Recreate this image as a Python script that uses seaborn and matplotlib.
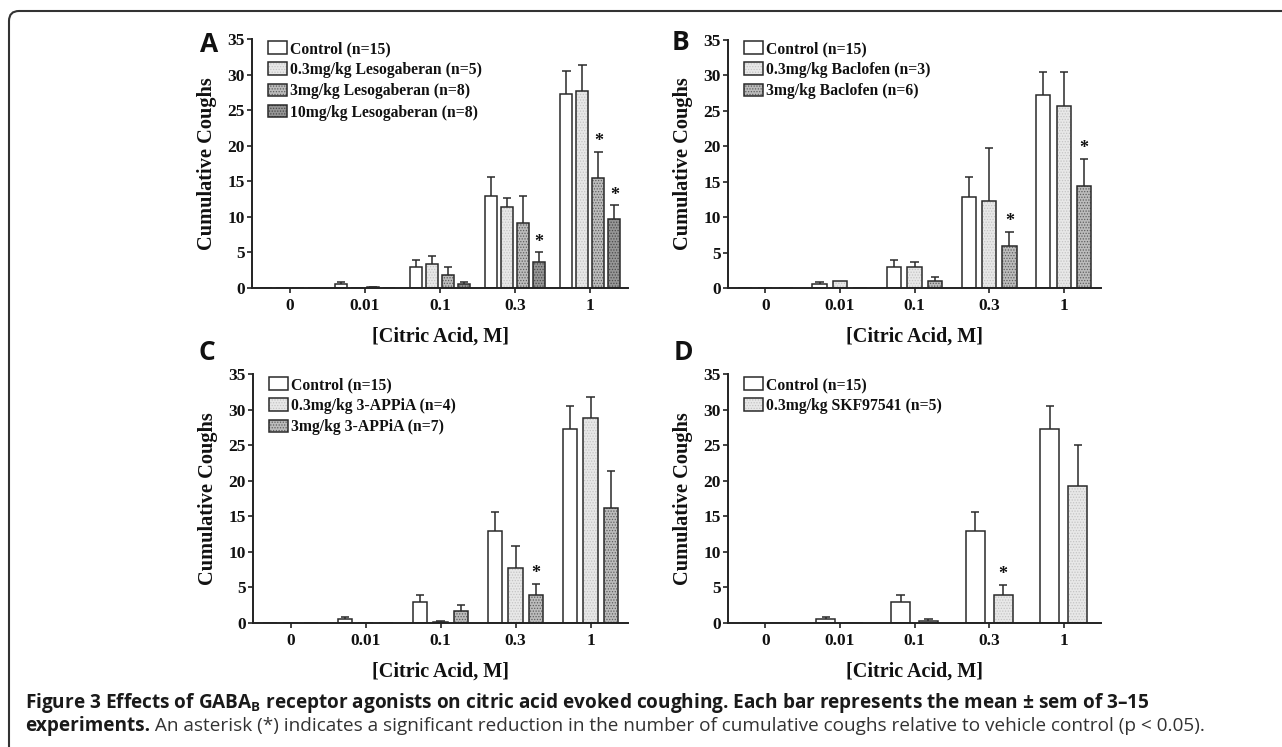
import numpy as np
import pandas as pd
import matplotlib
matplotlib.use("Agg")
import matplotlib.pyplot as plt
import seaborn as sns
from matplotlib.path import Path
from matplotlib.patches import PathPatch
from matplotlib.colors import to_rgba

# ---------------- data ----------------
concentrations = ["0", "0.01", "0.1", "0.3", "1"]

control_label = "Control (n=15)"
control_mean = [0.0, 0.5, 3.0, 12.9, 27.2]
control_sem = [0.0, 0.3, 0.9, 2.7, 3.3]

# Panel A - Lesogaberan
leso_labels = ["0.3mg/kg Lesogaberan (n=5)", "3mg/kg Lesogaberan (n=8)",
               "10mg/kg Lesogaberan (n=8)"]
leso03_mean = [0.0, 0.0, 3.4, 11.4, 27.7]
leso03_sem = [0.0, 0.0, 1.1, 1.3, 3.7]
leso3_mean = [0.0, 0.15, 1.8, 9.1, 15.5]
leso3_sem = [0.0, 0.05, 1.1, 3.8, 3.6]
leso10_mean = [0.0, 0.0, 0.6, 3.7, 9.7]
leso10_sem = [0.0, 0.0, 0.3, 1.3, 1.9]

# Panel B - Baclofen
bac_labels = ["0.3mg/kg Baclofen (n=3)", "3mg/kg Baclofen (n=6)"]
bac03_mean = [0.0, 1.0, 3.0, 12.3, 25.7]
bac03_sem = [0.0, 0.0, 0.6, 7.4, 4.8]
bac3_mean = [0.0, 0.0, 1.0, 5.9, 14.4]
bac3_sem = [0.0, 0.0, 0.5, 2.0, 3.8]

# Panel C - 3-APPiA
appia_labels = ["0.3mg/kg 3-APPiA (n=4)", "3mg/kg 3-APPiA (n=7)"]
appia03_mean = [0.0, 0.0, 0.2, 7.8, 28.8]
appia03_sem = [0.0, 0.0, 0.15, 3.0, 2.9]
appia3_mean = [0.0, 0.0, 1.7, 3.9, 16.2]
appia3_sem = [0.0, 0.0, 0.9, 1.6, 5.2]

# Panel D - SKF97541
skf_labels = ["0.3mg/kg SKF97541 (n=5)"]
skf03_mean = [0.0, 0.0, 0.35, 3.9, 19.3]
skf03_sem = [0.0, 0.0, 0.2, 1.5, 5.7]

# significant bars: (series index, concentration)
stars_A = [(3, "0.3"), (2, "1"), (3, "1")]
stars_B = [(2, "0.3"), (2, "1")]
stars_C = [(2, "0.3")]
stars_D = [(1, "0.3")]

caption_bold = ("Figure 3 Effects of GABA$_\\mathbf{B}$ receptor agonists on citric acid evoked "
                "coughing. Each bar represents the mean \u00b1 sem of 3\u201315")
caption_bold2 = "experiments."
caption_regular = (" An asterisk (*) indicates a significant reduction in the number of "
                   "cumulative coughs relative to vehicle control (p < 0.05).")

# ---------------- style ----------------
W, H = 1282, 747
EDGE = "#2a2a2a"
FILL = {"control": "#ffffff", "low": "#e8e8e8", "mid": "#bcbcbc", "high": "#969696"}
HATCH = {"control": None, "low": "......", "mid": "......", "high": "......"}
HATCHC = {"control": EDGE, "low": "#c4c4c4", "mid": "#5e5e5e", "high": "#4a4a4a"}

sns.set_theme(style="white")
plt.rcParams["font.family"] = ["Liberation Serif", "DejaVu Serif"]
plt.rcParams["mathtext.fontset"] = "custom"
plt.rcParams["mathtext.bf"] = "Open Sans:bold"
plt.rcParams["mathtext.rm"] = "Open Sans"
plt.rcParams["hatch.linewidth"] = 0.6

fig = plt.figure(figsize=(W / 100, H / 100), dpi=100)
fig.patch.set_facecolor("white")


def rect(l, r, t, b):
    return [l / W, 1 - b / H, (r - l) / W, (b - t) / H]


def draw_panel(box, labels, means, sems, styles, stars, width, gap, letter, letter_xy,
               leg_dy):
    ax = fig.add_axes(rect(*box))
    rows = []
    for lab, m in zip(labels, means):
        for c, v in zip(concentrations, m):
            rows.append({"conc": c, "group": lab, "value": v})
    df = pd.DataFrame(rows)
    palette = {lab: FILL[s] for lab, s in zip(labels, styles)}
    sns.barplot(data=df, x="conc", y="value", hue="group", order=concentrations,
                hue_order=labels, palette=palette, saturation=1, edgecolor=EDGE,
                linewidth=1.1, width=width, gap=gap, errorbar=None, legend=False, ax=ax)
    handles = []
    for i, cont in enumerate(ax.containers):
        st = styles[i]
        for j, p in enumerate(cont.patches):
            if HATCH[st]:
                p.set_hatch(HATCH[st])
                p._hatch_color = to_rgba(HATCHC[st])
            xc = p.get_x() + p.get_width() / 2
            h = p.get_height()
            e = sems[i][j]
            top = h + e
            if e > 0:
                ax.vlines(xc, h, top, color=EDGE, lw=1.1, zorder=4)
                ax.hlines(top, xc - 0.055, xc + 0.055, color=EDGE, lw=1.1, zorder=4)
            if (i, concentrations[j]) in stars:
                ax.text(xc, top + 1.45, "*", ha="center", va="center", fontsize=13,
                        fontweight="bold", color="#111")
        handles.append(cont.patches[0])
    ax.set_ylim(0, 35)
    ax.set_xlim(-0.5, len(concentrations) - 0.5)
    ax.set_yticks(range(0, 36, 5))
    for s in ["top", "right"]:
        ax.spines[s].set_visible(False)
    for s in ["left", "bottom"]:
        ax.spines[s].set_linewidth(1.4)
        ax.spines[s].set_color("#222")
    ax.tick_params(axis="both", direction="out", length=3.5, width=1.2, color="#222",
                   labelsize=12.5, labelcolor="#111", bottom=True, left=True)
    ax.tick_params(axis="x", pad=3.5)
    ax.tick_params(axis="y", pad=1.5)
    for t in ax.get_xticklabels() + ax.get_yticklabels():
        t.set_fontweight("bold")
    ax.set_xlabel("[Citric Acid, M]", fontsize=14.5, fontweight="bold", labelpad=9,
                  color="#111")
    ax.set_ylabel("Cumulative Coughs", fontsize=14.7, fontweight="bold", labelpad=8,
                  color="#111")
    ax.set_facecolor("white")
    hpx = box[3] - box[2]
    leg = ax.legend(handles=handles, labels=labels, loc="upper left",
                    bbox_to_anchor=(16 / (box[1] - box[0]), 1.0 - leg_dy / hpx),
                    frameon=False, borderpad=0, borderaxespad=0, handlelength=1.2,
                    handleheight=0.85, handletextpad=0.2, labelspacing=0.33,
                    prop={"family": "Liberation Serif", "weight": "bold", "size": 11.3})
    for t in leg.get_texts():
        t.set_color("#111")
    fig.text(letter_xy[0] / W, 1 - letter_xy[1] / H, letter, ha="center", va="center",
             fontsize=19, fontweight="bold", family=["Open Sans", "DejaVu Sans"],
             color="#111")
    return ax


draw_panel((252, 628, 39, 288), [control_label] + leso_labels,
           [control_mean, leso03_mean, leso3_mean, leso10_mean],
           [control_sem, leso03_sem, leso3_sem, leso10_sem],
           ["control", "low", "mid", "high"], stars_A, 0.85, 0.25, "A", (209, 44), 2)
draw_panel((728, 1101, 40, 288), [control_label] + bac_labels,
           [control_mean, bac03_mean, bac3_mean],
           [control_sem, bac03_sem, bac3_sem],
           ["control", "low", "mid"], stars_B, 0.82, 0.3, "B", (680, 43), 1)
draw_panel((253, 628, 374, 623), [control_label] + appia_labels,
           [control_mean, appia03_mean, appia3_mean],
           [control_sem, appia03_sem, appia3_sem],
           ["control", "low", "mid"], stars_C, 0.82, 0.3, "C", (207, 353), 3)
draw_panel((728, 1101, 374, 623), [control_label] + skf_labels,
           [control_mean, skf03_mean],
           [control_sem, skf03_sem],
           ["control", "low"], stars_D, 0.75, 0.32, "D", (683, 353), 3)

# border (top and left edges with rounded corner)
r = 10
verts = [(9, H + 20), (9, 11 + r), (9, 11), (9 + r, 11), (W + 20, 11)]
verts = [(x / 100, (H - y) / 100) for x, y in verts]
codes = [Path.MOVETO, Path.LINETO, Path.CURVE3, Path.CURVE3, Path.LINETO]
fig.add_artist(PathPatch(Path(verts, codes), fill=False, edgecolor="#333", lw=1.5,
                         transform=fig.dpi_scale_trans, clip_on=False))

# caption
fig.canvas.draw()
rend = fig.canvas.get_renderer()
cap_family = ["Open Sans", "DejaVu Sans"]
x0 = 25 / W
t1 = fig.text(x0, 1 - 703 / H, caption_bold, fontsize=11, fontweight="bold",
              family=cap_family, va="center", ha="left", color="#1a1a1a")
w1 = t1.get_window_extent(rend).width
fs = 11 * (1152 - 25) / w1
t1.set_fontsize(fs)
t2 = fig.text(x0, 1 - 726 / H, caption_bold2, fontsize=fs, fontweight="bold",
              family=cap_family, va="center", ha="left", color="#1a1a1a")
w2 = t2.get_window_extent(rend).width
fig.text(x0 + w2 / W, 1 - 726 / H, caption_regular, fontsize=fs, fontweight="normal",
         family=cap_family, va="center", ha="left", color="#333333")

fig.savefig("out.png", dpi=100, facecolor="white")
